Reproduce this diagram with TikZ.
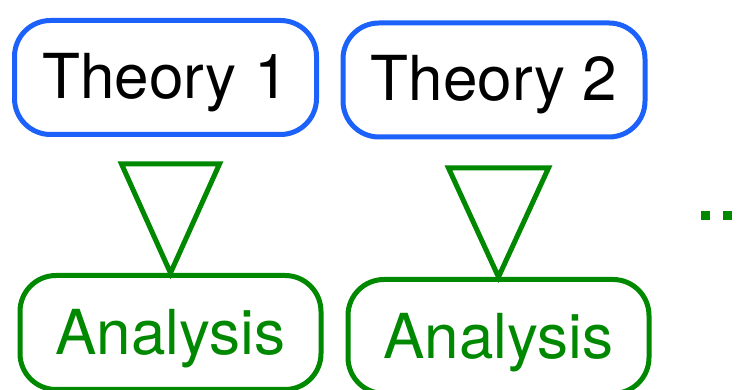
\documentclass[tikz,border=0pt]{standalone}
\usepackage{fontspec}
\setmainfont{TeX Gyre Heros}
\definecolor{theoryblue}{RGB}{28,98,250}
\definecolor{analysisgreen}{RGB}{0,136,0}
\newcommand{\boxtext}[2]{\raisebox{#1}[0pt][0pt]{#2}}

\begin{document}
\begin{tikzpicture}[
  x=1pt,y=1pt,
  box/.style={line width=5pt,rounded corners=36pt,minimum height=114pt,inner sep=0pt,font=\fontsize{62}{62}\selectfont},
  theory/.style={box,draw=theoryblue,minimum width=302pt},
  analysis/.style={box,draw=analysisgreen,text=analysisgreen,minimum width=301pt},
  uses/.style={draw=analysisgreen,line width=5pt,line join=miter}
]
  \useasboundingbox (0,0) rectangle (742,390);

  \node[theory] (theory1) at (165.5,312.5) {\boxtext{-21pt}{Theory 1}};
  \node[theory] (theory2) at (494,310) {\boxtext{-21pt}{Theory 2}};
  \node[analysis] (analysis1) at (170.5,57.5) {\boxtext{-22pt}{Analysis}};
  \node[analysis] (analysis2) at (498.5,53.5) {\boxtext{-22pt}{Analysis}};

  % open triangles sitting on the analysis boxes
  \draw[uses] (analysis1.north) -- ++(-49,109) -- ++(98,0) -- cycle;
  \draw[uses] (analysis2.north) -- ++(-50,109) -- ++(100,0) -- cycle;

  % more theories to the right
  \foreach \i in {0,1,2}
    \fill[analysisgreen] (701+22*\i,170) rectangle ++(9,9);
\end{tikzpicture}
\end{document}
